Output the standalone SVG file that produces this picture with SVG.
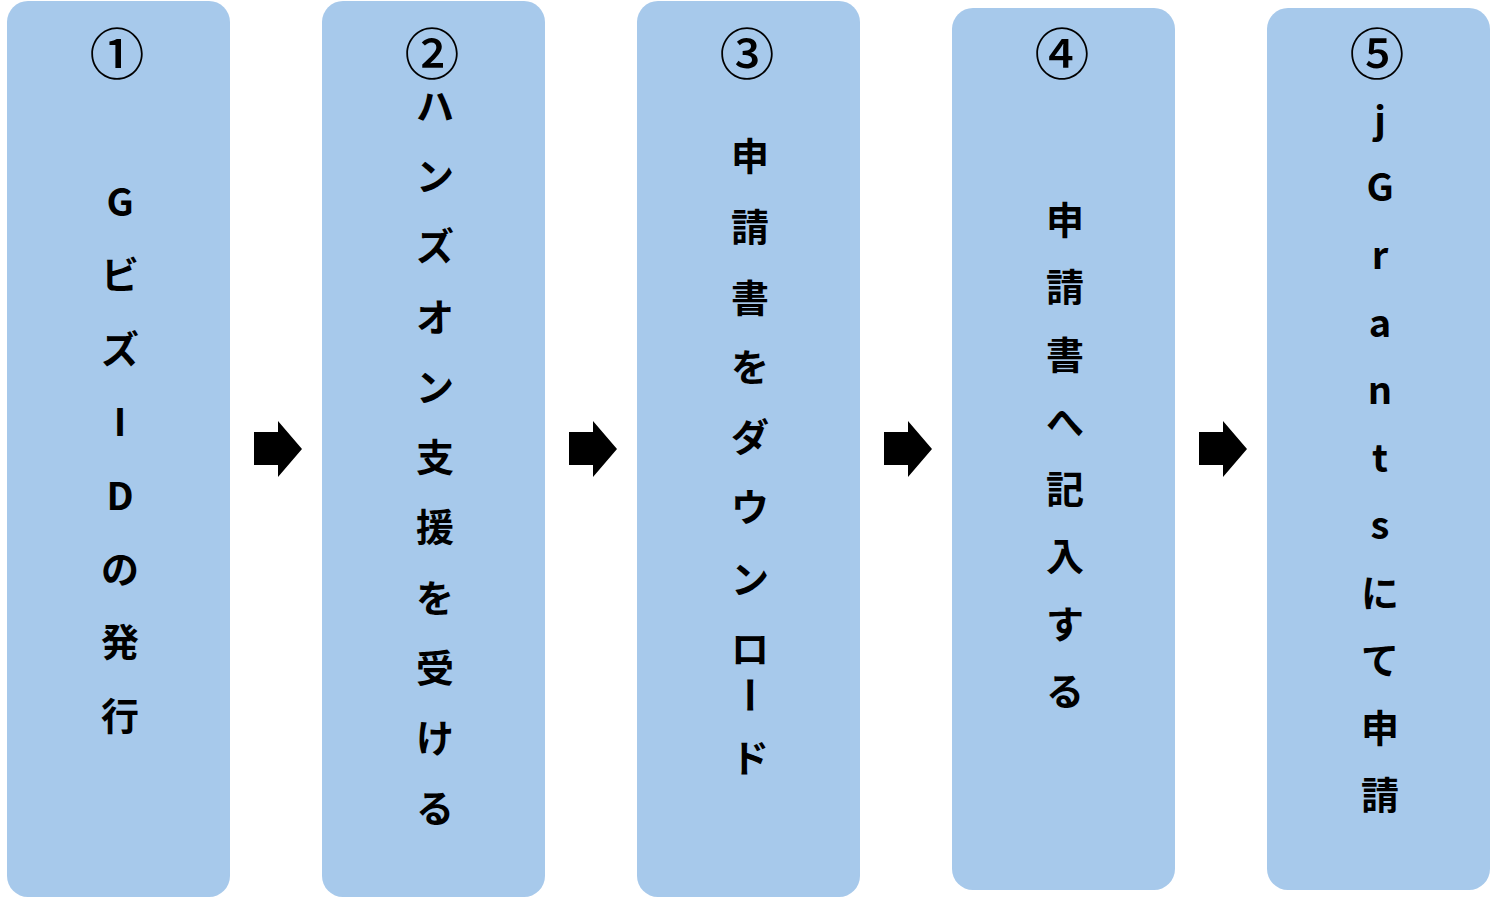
<svg xmlns="http://www.w3.org/2000/svg" width="1492" height="899" viewBox="0 0 1492 899">
<style>
.box{fill:#A7C9EB;}
.num{font-family:"Noto Sans CJK JP","Noto Sans",sans-serif;font-size:55px;font-weight:500;text-anchor:middle;fill:#000;}
.t{font-family:"Noto Sans CJK JP","Noto Sans",sans-serif;font-size:38px;font-weight:700;text-anchor:middle;fill:#000;}
.arrow{fill:#000;}
</style>
<rect width="1492" height="899" fill="#fff"/>
<g id="node1">
<rect class="box" x="7" y="1" width="223" height="896" rx="21"/>
<text class="num" x="117" y="74">①</text>
<text class="t" x="120" y="216">G</text>
<text class="t" x="120" y="289">ビ</text>
<text class="t" x="120" y="363">ズ</text>
<text class="t" x="120" y="436">I</text>
<text class="t" x="120" y="510">D</text>
<text class="t" x="120" y="583">の</text>
<text class="t" x="120" y="656">発</text>
<text class="t" x="120" y="730">行</text>
</g>
<g id="node2">
<rect class="box" x="322" y="1" width="223" height="896" rx="21"/>
<text class="num" x="432" y="74">②</text>
<text class="t" x="435" y="120">ハ</text>
<text class="t" x="435" y="190">ン</text>
<text class="t" x="435" y="260">ズ</text>
<text class="t" x="435" y="331">オ</text>
<text class="t" x="435" y="401">ン</text>
<text class="t" x="435" y="471">支</text>
<text class="t" x="435" y="541">援</text>
<text class="t" x="435" y="612">を</text>
<text class="t" x="435" y="682">受</text>
<text class="t" x="435" y="752">け</text>
<text class="t" x="435" y="822">る</text>
</g>
<g id="node3">
<rect class="box" x="637" y="1" width="223" height="896" rx="21"/>
<text class="num" x="747" y="74">③</text>
<text class="t" x="750" y="170">申</text>
<text class="t" x="750" y="241">請</text>
<text class="t" x="750" y="312">書</text>
<text class="t" x="750" y="381">を</text>
<text class="t" x="750" y="451">ダ</text>
<text class="t" x="750" y="521">ウ</text>
<text class="t" x="750" y="593">ン</text>
<text class="t" x="750" y="663">ロ</text>
<text class="t" transform="rotate(90 750 695)" x="750" y="709">ー</text>
<text class="t" x="750" y="772">ド</text>
</g>
<g id="node4">
<rect class="box" x="952" y="8" width="223" height="882" rx="21"/>
<text class="num" x="1062" y="74">④</text>
<text class="t" x="1065" y="234">申</text>
<text class="t" x="1065" y="301">請</text>
<text class="t" x="1065" y="369">書</text>
<text class="t" x="1065" y="436">へ</text>
<text class="t" x="1065" y="503">記</text>
<text class="t" x="1065" y="570">入</text>
<text class="t" x="1065" y="638">す</text>
<text class="t" x="1065" y="705">る</text>
</g>
<g id="node5">
<rect class="box" x="1267" y="8" width="223" height="882" rx="21"/>
<text class="num" x="1377" y="74">⑤</text>
<text class="t" x="1380" y="134">j</text>
<text class="t" x="1380" y="201">G</text>
<text class="t" x="1380" y="269">r</text>
<text class="t" x="1380" y="337">a</text>
<text class="t" x="1380" y="404">n</text>
<text class="t" x="1380" y="472">t</text>
<text class="t" x="1380" y="539">s</text>
<text class="t" x="1380" y="607">に</text>
<text class="t" x="1380" y="674">て</text>
<text class="t" x="1380" y="742">申</text>
<text class="t" x="1380" y="809">請</text>
</g>
<g id="connectors">
<polygon class="arrow" points="254,432 278,432 278,421 302,449 278,477 278,465 254,465"/>
<polygon class="arrow" points="569,432 593,432 593,421 617,449 593,477 593,465 569,465"/>
<polygon class="arrow" points="884,432 908,432 908,421 932,449 908,477 908,465 884,465"/>
<polygon class="arrow" points="1199,432 1223,432 1223,421 1247,449 1223,477 1223,465 1199,465"/>
</g>
</svg>
